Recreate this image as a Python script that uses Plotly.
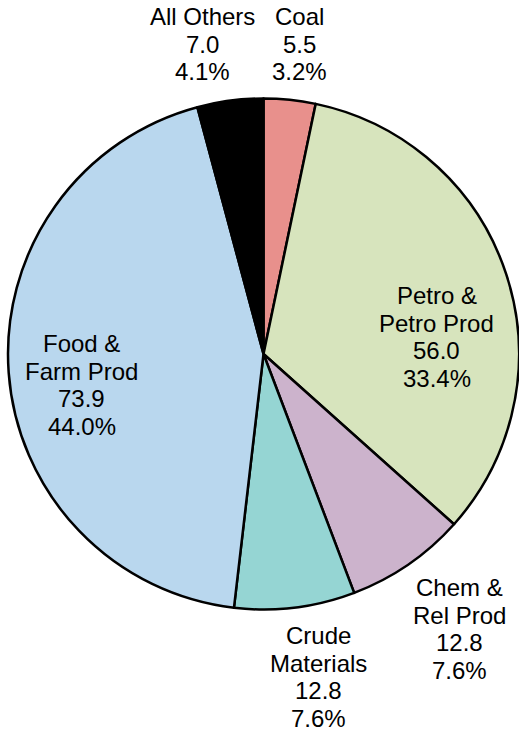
import plotly.graph_objects as go

categories = ["Coal", "Petro &<br>Petro Prod", "Chem &<br>Rel Prod", "Crude<br>Materials", "Food &<br>Farm Prod", "All Others"]
values = [5.5, 56.0, 12.8, 12.8, 73.9, 7.0]
value_labels = ["5.5", "56.0", "12.8", "12.8", "73.9", "7.0"]
pct_labels = ["3.2%", "33.4%", "7.6%", "7.6%", "44.0%", "4.1%"]
colors = ["#E8908C", "#D7E4BD", "#CCB3CC", "#95D5D3", "#B9D7EE", "#000000"]

# label block centres (paper coordinates of the pie's plot area)
label_x = [0.571, 0.8395, 0.8845, 0.607, 0.1448, 0.380]
label_y = [1.1045, 0.533, -0.037, -0.131, 0.4395, 1.1045]
LINE_STEP = 27.5 / 512.0  # line spacing in paper units

FONT = "Liberation Sans, Arial, sans-serif"

fig = go.Figure(go.Pie(
    labels=categories,
    values=values,
    textinfo="none",
    sort=False,
    direction="clockwise",
    rotation=0,
    marker=dict(colors=colors, line=dict(color="#000000", width=2.5)),
    automargin=False,
    hoverinfo="label+value",
    showlegend=False,
))

for c, v, p, x, y in zip(categories, value_labels, pct_labels, label_x, label_y):
    lines = c.split("<br>") + [v, p]
    n = len(lines)
    for i, line in enumerate(lines):
        fig.add_annotation(
            text=line, x=x, y=y - (i - (n - 1) / 2) * LINE_STEP,
            xref="paper", yref="paper",
            xanchor="center", yanchor="middle", showarrow=False,
            font=dict(family=FONT, size=24, color="#000000"),
        )

fig.update_layout(
    width=519, height=732,
    margin=dict(l=8, r=0, t=98, b=122),
    paper_bgcolor="white",
    plot_bgcolor="white",
    showlegend=False,
)

fig.write_html("out.html", config={"displayModeBar": False},
               post_script="document.body.style.margin='0';")
